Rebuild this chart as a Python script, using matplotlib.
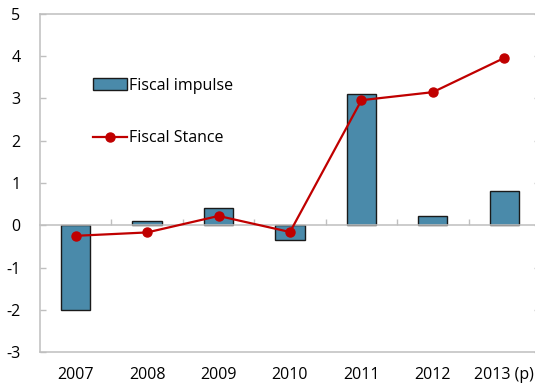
import numpy as np
import matplotlib.pyplot as plt

# Fiscal impulse vs fiscal stance, % of GDP
years = ["2007", "2008", "2009", "2010", "2011", "2012", "2013 (p)"]
fiscal_impulse = [-2.0, 0.09, 0.4, -0.36, 3.1, 0.22, 0.8]
fiscal_stance = [-0.25, -0.17, 0.22, -0.16, 2.96, 3.15, 3.96]

AXIS_GREY = "#bfbfbf"
BAR_BLUE = "#4a8aaa"
LINE_RED = "#c00000"
FONT_SIZE = 11.5

plt.rcParams["font.family"] = ["Open Sans", "DejaVu Sans"]
plt.rcParams["axes.unicode_minus"] = False

fig = plt.figure(figsize=(5.35, 3.91), dpi=100)
ax = fig.add_axes([40 / 535, 1 - 352 / 391, 500 / 535, 338 / 391])

x = np.arange(len(years))
bars = ax.bar(x, fiscal_impulse, width=0.41, color=BAR_BLUE, edgecolor="#1a1a1a",
              linewidth=1.0, label="Fiscal impulse", zorder=2)
line, = ax.plot(x, fiscal_stance, color=LINE_RED, linewidth=1.6, marker="o",
                markersize=6.5, label="Fiscal Stance", zorder=3)

ax.set_xlim(-0.5, len(years) - 0.5)
ax.set_ylim(-3, 5)
ax.set_yticks(range(-3, 6))
ax.tick_params(axis="y", direction="in", length=4.5, width=1, color=AXIS_GREY,
               right=True, labelsize=FONT_SIZE, pad=14)

# zero line carries the category boundary ticks
ax.spines["bottom"].set_position(("data", 0))
ax.set_xticks(x[:-1] + 0.5)
ax.tick_params(axis="x", direction="in", length=4.5, width=1, color=AXIS_GREY,
               labelbottom=False)

for side in ["left", "right", "top", "bottom"]:
    ax.spines[side].set_color(AXIS_GREY)
    ax.spines[side].set_linewidth(1.1)

# category labels sit on the frame at the bottom
sec = ax.secondary_xaxis("bottom")
sec.set_xticks(x, years)
sec.tick_params(length=0, labelsize=FONT_SIZE, pad=19.5)
for lbl in sec.get_xticklabels():
    lbl.set_verticalalignment("baseline")
sec.spines["bottom"].set_color(AXIS_GREY)
sec.spines["bottom"].set_linewidth(1.1)

ax.legend(handles=[bars, line], loc="upper left", bbox_to_anchor=(0.106, 0.812),
          frameon=False, fontsize=FONT_SIZE, handlelength=2.1, handletextpad=0.15,
          labelspacing=2.3, borderpad=0, borderaxespad=0)

fig.savefig("out.png", dpi=100)
